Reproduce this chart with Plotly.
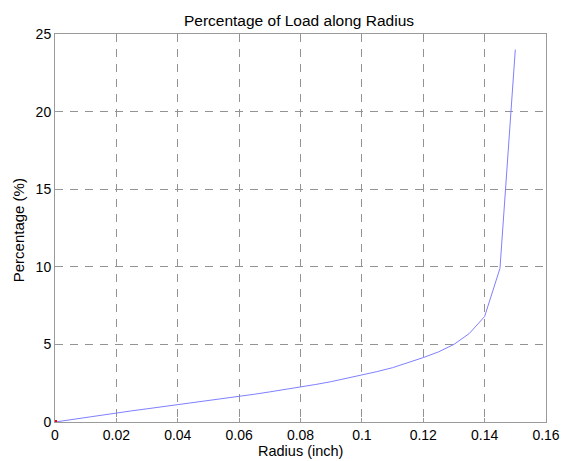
import plotly.graph_objects as go

radius = [0.0, 0.005, 0.01, 0.015, 0.02, 0.025, 0.03, 0.035, 0.04, 0.045, 0.05,
          0.055, 0.06, 0.065, 0.07, 0.075, 0.08, 0.085, 0.09, 0.095, 0.1,
          0.105, 0.11, 0.115, 0.12, 0.125, 0.13, 0.135, 0.14, 0.145, 0.15]
percentage = [0.0, 0.15, 0.3, 0.44, 0.58, 0.72, 0.85, 0.98, 1.11, 1.24, 1.38,
              1.51, 1.65, 1.79, 1.94, 2.09, 2.25, 2.42, 2.6, 2.8, 3.02,
              3.25, 3.5, 3.8, 4.15, 4.52, 5.0, 5.7, 6.8, 9.9, 24.0]
x_ticks = [0, 0.02, 0.04, 0.06, 0.08, 0.1, 0.12, 0.14, 0.16]
x_tick_labels = ["0", "0.02", "0.04", "0.06", "0.08", "0.1", "0.12", "0.14", "0.16"]
y_ticks = [0, 5, 10, 15, 20, 25]

font = "Liberation Sans, Arial, Helvetica, sans-serif"

fig = go.Figure()
fig.add_trace(go.Scatter(x=radius, y=percentage, mode="lines",
                         line=dict(color="#7f7fff", width=1), showlegend=False))
fig.add_trace(go.Scatter(x=[radius[0]], y=[percentage[0]], mode="markers",
                         marker=dict(color="red", size=4, symbol="square"),
                         showlegend=False))

axis_common = dict(showline=True, linecolor="#9a9a9a", linewidth=1, mirror=True,
                   showgrid=True, gridcolor="#939393", gridwidth=1, griddash="8px,7px",
                   zeroline=False, ticks="inside", ticklen=4, tickcolor="#9a9a9a",
                   automargin=False,
                   tickfont=dict(family=font, size=14, color="black"))

fig.update_layout(
    template="none",
    width=562, height=461,
    margin=dict(l=55, r=16, t=34, b=39),
    paper_bgcolor="white", plot_bgcolor="white",
    title=dict(text="Percentage of Load along Radius", x=0.532, xanchor="center",
               y=0.955, yanchor="middle",
               font=dict(family=font, size=15.5, color="black")),
    xaxis=dict(range=[0, 0.16], tickvals=x_ticks, ticktext=x_tick_labels,
               **axis_common),
    yaxis=dict(range=[0, 25], tickvals=y_ticks, **axis_common),
    annotations=[
        dict(text="Radius (inch)", xref="paper", yref="paper", x=0.5, y=-0.0746,
             xanchor="center", yanchor="middle", showarrow=False,
             font=dict(family=font, size=14.5, color="black")),
        dict(text="Percentage (%)", xref="paper", yref="paper", x=-0.0754, y=0.494,
             xanchor="center", yanchor="middle", textangle=-90, showarrow=False,
             font=dict(family=font, size=15, color="black")),
    ],
)

fig.write_html("out.html")
